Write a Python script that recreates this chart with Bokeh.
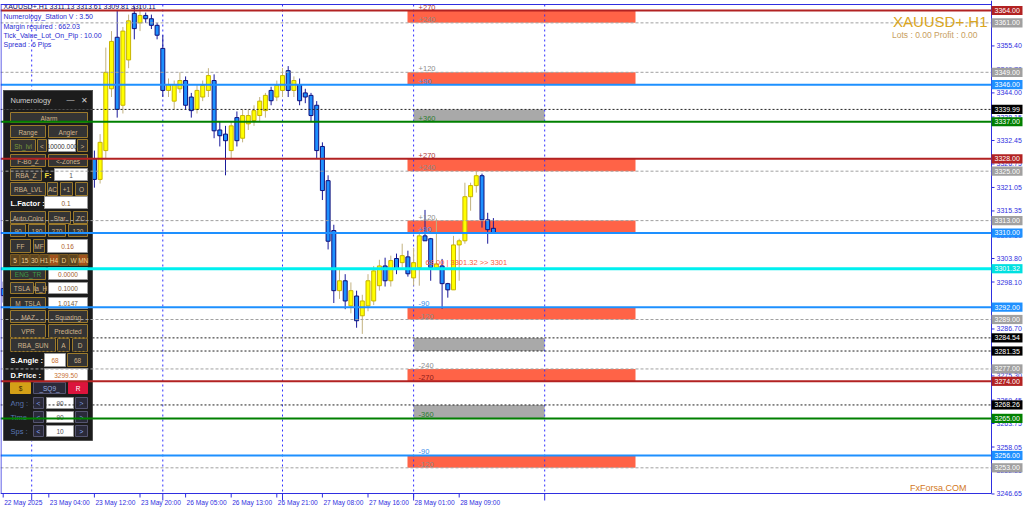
from bokeh.plotting import figure
from bokeh.models import Range1d
from bokeh.core.properties import value
from bokeh.embed import file_html
from bokeh.resources import INLINE

# ------------------------------------------------------------------ data
symbol = "XAUUSD+.H1"
bars = list(range(87))
opens = [3296.5, 3294.8, 3299.6, 3303.2, 3301.4, 3306.9, 3311.3, 3309.0, 3313.7, 3318.2,
         3315.9, 3320.4, 3324.1, 3321.8, 3326.3, 3329.5, 3328.0, 3323.0, 3330.0, 3345.0,
         3357.5, 3341.0, 3352.0, 3363.3, 3361.0, 3362.8, 3362.0, 3360.4, 3354.8, 3344.6,
         3342.0, 3345.0, 3347.0, 3343.0, 3340.0, 3343.0, 3344.6, 3347.0, 3335.0, 3334.0,
         3330.0, 3338.0, 3333.0, 3336.5, 3337.3, 3338.5, 3339.7, 3344.6, 3343.0, 3344.6,
         3349.4, 3344.6, 3346.0, 3344.0, 3343.4, 3341.0, 3331.0, 3322.7, 3310.6, 3296.0,
         3298.4, 3292.3, 3294.7, 3289.9, 3292.3, 3293.5, 3297.2, 3302.0, 3298.4, 3303.8,
         3302.8, 3304.2, 3299.1, 3301.6, 3309.3, 3308.6, 3301.6, 3302.0, 3297.7, 3296.2,
         3307.1, 3308.1, 3318.8, 3321.5, 3323.9, 3313.2, 3311.13]
highs = [3298.2, 3300.9, 3304.5, 3305.1, 3308.0, 3312.6, 3312.4, 3315.2, 3319.4, 3319.0,
         3321.7, 3325.3, 3325.0, 3327.6, 3330.8, 3331.2, 3330.0, 3334.0, 3355.0, 3359.0,
         3364.0, 3360.0, 3363.0, 3365.0, 3365.5, 3363.5, 3363.0, 3361.0, 3358.0, 3347.5,
         3347.0, 3349.0, 3348.0, 3344.0, 3346.0, 3347.0, 3350.0, 3348.5, 3337.0, 3336.0,
         3337.0, 3339.5, 3340.0, 3340.0, 3341.0, 3343.0, 3344.0, 3345.5, 3347.0, 3350.0,
         3350.5, 3348.0, 3347.5, 3345.0, 3344.0, 3342.0, 3332.0, 3324.0, 3312.0, 3301.0,
         3300.0, 3298.0, 3296.0, 3295.0, 3300.0, 3302.0, 3303.5, 3304.0, 3304.5, 3305.0,
         3307.4, 3305.7, 3306.4, 3310.5, 3315.6, 3308.8, 3313.5, 3303.7, 3297.9, 3309.3,
         3308.6, 3322.2, 3322.2, 3325.1, 3324.4, 3314.9, 3313.61]
lows = [3293.1, 3293.6, 3298.4, 3300.2, 3300.5, 3305.3, 3307.6, 3308.1, 3312.5, 3314.3,
        3314.8, 3319.2, 3320.5, 3320.9, 3325.1, 3326.9, 3321.0, 3322.0, 3328.0, 3343.0,
        3338.0, 3339.0, 3350.0, 3357.0, 3359.0, 3361.0, 3359.5, 3357.0, 3343.0, 3343.0,
        3340.0, 3344.0, 3340.0, 3338.0, 3339.0, 3342.0, 3343.0, 3333.0, 3331.0, 3324.0,
        3328.0, 3331.0, 3332.0, 3335.0, 3336.0, 3337.0, 3338.0, 3341.0, 3342.0, 3343.0,
        3343.0, 3343.0, 3341.0, 3341.5, 3337.0, 3328.0, 3318.0, 3306.0, 3293.0, 3294.0,
        3291.5, 3290.5, 3287.0, 3285.5, 3291.0, 3292.5, 3296.0, 3297.0, 3297.0, 3300.0,
        3301.6, 3299.4, 3297.2, 3297.2, 3308.1, 3298.4, 3301.5, 3291.6, 3294.3, 3296.2,
        3298.4, 3307.4, 3315.4, 3319.8, 3311.3, 3307.4, 3309.81]
closes = [3294.8, 3299.6, 3303.2, 3301.4, 3306.9, 3311.3, 3309.0, 3313.7, 3318.2, 3315.9,
          3320.4, 3324.1, 3321.8, 3326.3, 3329.5, 3328.0, 3323.0, 3332.0, 3349.0, 3356.5,
          3340.0, 3359.0, 3361.5, 3359.6, 3362.8, 3362.0, 3360.4, 3358.0, 3344.6, 3346.0,
          3346.0, 3347.0, 3341.0, 3339.7, 3344.6, 3345.8, 3348.2, 3334.8, 3333.6, 3332.4,
          3336.0, 3332.4, 3338.5, 3338.5, 3339.7, 3342.0, 3343.4, 3342.1, 3345.8, 3348.2,
          3344.6, 3347.0, 3342.1, 3343.0, 3338.5, 3330.0, 3320.3, 3308.0, 3296.0, 3298.4,
          3293.5, 3296.0, 3288.7, 3293.5, 3298.4, 3300.8, 3302.0, 3298.4, 3303.3, 3301.3,
          3304.5, 3300.1, 3302.8, 3309.3, 3308.1, 3301.6, 3302.5, 3297.7, 3296.2, 3307.1,
          3308.1, 3318.8, 3321.5, 3323.9, 3313.2, 3310.8, 3310.11]

time_label_bars = [0, 8, 16, 24, 32, 40, 48, 56, 64, 72, 80]
time_labels = ["22 May 2025", "23 May 04:00", "23 May 12:00", "23 May 20:00", "26 May 05:00",
               "26 May 13:00", "26 May 21:00", "27 May 08:00", "27 May 16:00", "28 May 01:00",
               "28 May 09:00"]
day_separator_bars = [5, 28, 49, 72, 95]

price_ticks = [3246.65, 3252.35, 3258.05, 3263.75, 3269.45, 3275.30, 3281.00, 3286.70,
               3292.40, 3298.10, 3303.80, 3309.50, 3315.35, 3321.05, 3326.75, 3332.45,
               3338.15, 3344.00, 3349.70, 3355.40, 3361.10]

# horizontal levels
solid_levels = [3364.00, 3346.00, 3337.00, 3328.00, 3310.00, 3301.32, 3292.00, 3274.00, 3265.00, 3256.00]
solid_kinds = ["red", "blue", "green", "red", "blue", "cyan", "blue", "red", "green", "blue"]
gray_levels = [3361.00, 3349.00, 3325.00, 3313.00, 3289.00, 3277.00, 3253.00]
black_levels = [3339.99, 3284.54, 3281.35, 3268.26]

red_zone_low = [3361.00, 3346.00, 3325.00, 3310.00, 3289.00, 3274.00, 3253.00]
red_zone_high = [3364.00, 3349.00, 3328.00, 3313.00, 3292.00, 3277.00, 3256.00]
gray_zone_low = [3337.00, 3281.35, 3265.00]
gray_zone_high = [3339.99, 3284.54, 3268.26]
red_zone_bars = (70.93, 110.93)
gray_zone_bars = (72.0, 95.0)

angle_labels = ["+270", "+240", "+120", "+90", "+360", "+270", "+240", "+120", "+90",
                "-90", "-120", "-240", "-270", "-360", "-90", "-120"]
angle_levels = [3364.00, 3361.00, 3349.00, 3346.00, 3337.00, 3328.00, 3325.00, 3313.00, 3310.00,
                3292.00, 3289.00, 3277.00, 3274.00, 3265.00, 3256.00, 3253.00]
angle_kinds = ["red", "gray", "gray", "blue", "green", "red", "gray", "gray", "blue",
               "blue", "gray", "gray", "dred", "green", "blue", "gray"]

header_lines = ["XAUUSD+.H1  3311.13 3313.61 3309.81 3310.11",
                "Numerology_Station V : 3.50",
                "Margin required : 662.03",
                "Tick_Value_Lot_On_Pip : 10.00",
                "Spread : 6  Pips"]
predicted_text = "68.00 | 3301.32  >> 3301"

# ------------------------------------------------------------------ geometry / styles
W, H = 1024, 509                 # canvas = frame (axes drawn by hand, MT4 style)
PX_BAR = 5.7                     # pixels per bar
PX_PRICE = 4.12                  # pixels per price unit
X0 = -2.7 / PX_BAR
X1 = X0 + W / PX_BAR
Y1 = 3364.0 + 10 / PX_PRICE
Y0 = Y1 - H / PX_PRICE
AX_X, AX_TOP, AX_BOT = 991, 4, 493   # pixel positions of chart border

def dx(px):
    return X0 + px / PX_BAR

def dy(py):
    return Y1 - py / PX_PRICE

AX_BLUE = "#2f2fe0"
LINE_COL = {"red": "#b22222", "blue": "#1e90ff", "green": "#008000", "cyan": "#00f0f0"}
TAG_COL = {"red": "#b22222", "blue": "#1e90ff", "green": "#008000", "cyan": "#00e0e0",
           "gray": "#a0a0a0", "black": "#000000"}
ANG_COL = {"red": "#b03a3a", "gray": "#8c8c8c", "blue": "#3a8ee8", "green": "#2e7d32", "dred": "#8b1a1a"}
FONT = "Liberation Sans"

p = figure(width=W, height=H, x_range=Range1d(X0, X1), y_range=Range1d(Y0, Y1),
           x_axis_type=None, y_axis_type=None, output_backend="svg", toolbar_location=None,
           min_border=0, background_fill_color="white", border_fill_color="white")
p.grid.visible = False
p.outline_line_color = None

def txt(x, y, t, color, size, align="left", baseline="middle", style="normal"):
    p.text(x=x, y=y, text=t, text_color=color, text_align=align, text_baseline=baseline,
           text_font=value(FONT), text_font_size=value(size), text_font_style=style)

# zones
n_r = len(red_zone_low)
p.quad(left=[red_zone_bars[0]] * n_r, right=[red_zone_bars[1]] * n_r,
       bottom=red_zone_low, top=red_zone_high, fill_color="#ff6347", line_color=None)
n_g = len(gray_zone_low)
p.quad(left=[gray_zone_bars[0]] * n_g, right=[gray_zone_bars[1]] * n_g,
       bottom=gray_zone_low, top=gray_zone_high, fill_color="#a9a9a9", line_color=None)

# vertical day separators
ns = len(day_separator_bars)
p.segment(x0=day_separator_bars, x1=day_separator_bars, y0=[dy(AX_TOP)] * ns, y1=[dy(AX_BOT)] * ns,
          line_color="#3030ff", line_dash="2 3", line_width=1)

# candles
bull = [c >= o for o, c in zip(opens, closes)]
wick_col = ["#c2b280" if b else "#1a1a9a" for b in bull]
body_fill = ["#ffff00" if b else "#1e90ff" for b in bull]
body_line = ["#c8b400" if b else "#10107a" for b in bull]
p.segment(x0=bars, x1=bars, y0=lows, y1=highs, line_color=wick_col, line_width=1)
tops = [max(o, c) for o, c in zip(opens, closes)]
bots = [min(o, c) for o, c in zip(opens, closes)]
p.vbar(x=bars, width=0.7, top=tops, bottom=bots, fill_color=body_fill, line_color=body_line, line_width=1)

# ------------------------------------------------------------------ Numerology panel (UI chrome)
BTN_FILL, BTN_LINE, BTN_TXT = "#343434", "#9c7a2c", "#d2b48c"
INP_TXT = "#8b5a2b"
panel = []  # (x0, y0, x1, y1, text, fill, line, tcolor)
def btn(x0, y0, x1, y1, t, fill=BTN_FILL, tc=BTN_TXT, line=BTN_LINE):
    panel.append((x0, y0, x1, y1, t, fill, line, tc))
def inp(x0, y0, x1, y1, t, tc=INP_TXT):
    panel.append((x0, y0, x1, y1, t, "#ffffff", "#9a9a9a", tc))

btn(10, 112, 87, 122, "Alarm")
btn(10, 125, 45, 137, "Range"); btn(48, 125, 87, 137, "Angler")
btn(10, 139, 35, 151, "Sh_lvl", tc="#7a9a3a"); btn(37, 139, 46, 151, "<"); inp(48, 139, 75, 151, "10000.000", tc="#333333"); btn(77, 139, 87, 151, ">")
btn(10, 154, 45, 166, "F-Bo_Z"); btn(48, 154, 87, 166, "<-Zones")
btn(10, 168, 41, 180, "RBA_Z"); inp(54, 168, 87, 180, "1", tc="#555555")
btn(10, 182, 45, 195, "RBA_LVL"); btn(47, 182, 57, 195, "AC"); btn(60, 182, 72, 195, "+1"); btn(75, 182, 87, 195, "O")
inp(44, 196, 87, 208, "0.1")
btn(10, 211, 45, 223, "Auto Color"); btn(48, 211, 70, 223, "Star"); btn(73, 211, 87, 223, "ZC")
btn(10, 224, 25, 236, "90"); btn(28, 224, 45, 236, "180"); btn(48, 224, 65, 236, "270"); btn(68, 224, 87, 236, "120")
btn(10, 239, 30, 252, "FF"); btn(33, 239, 44, 252, "MF"); inp(47, 239, 87, 252, "0.16", tc="#b0602a")
tf = ["5", "15", "30", "H1", "H4", "D", "W", "MN"]
for i, t in enumerate(tf):
    x0 = 10 + i * 9.75
    hot = t in ("H4", "MN")
    btn(x0, 254, x0 + 9.0, 265, t, fill="#a0521d" if hot else "#5c4420", tc="#f0d090", line="#7a5a20")
btn(10, 267, 45, 279, "ENG_TR", tc="#3e9a4a"); inp(48, 267, 87, 279, "0.0000", tc="#a06030")
btn(10, 282, 33, 293, "TSLA"); btn(35, 282, 45, 293, "la_H"); inp(48, 282, 87, 293, "0.1000", tc="#7a5a3a")
btn(10, 297, 45, 308, "M_TSLA"); inp(48, 297, 87, 308, "1.0147", tc="#7a5a3a")
btn(10, 310, 45, 322, "MAZ"); btn(48, 310, 87, 322, "Squaring")
btn(10, 324, 45, 337, "VPR"); btn(48, 324, 87, 337, "Predicted")
btn(10, 338, 55, 351, "RBA_SUN"); btn(57, 338, 69, 351, "A"); btn(72, 338, 87, 351, "D")
inp(44, 353, 65, 366, "68", tc="#c87030"); btn(67, 353, 87, 366, "68")
inp(44, 368, 87, 381, "3299.50", tc="#c87030")
btn(10, 382, 30, 393, "$", fill="#d4a017", tc="#3a2a00", line="#d4a017")
btn(33, 382, 65, 393, "_SQ9_", fill="#2a2a3a", tc="#9ab0e0", line="#555570")
btn(68, 382, 87, 393, "R", fill="#dc143c", tc="#ffffff", line="#dc143c")
for yy, v in ((397, "90"), (411, "90"), (425, "10")):
    btn(33, yy, 43, yy + 11, "<", tc="#8ab0ff", line="#555570", fill="#2a2a3a")
    inp(46, yy, 73, yy + 11, v, tc="#555555")
    btn(75, yy, 87, yy + 11, ">", tc="#8ab0ff", line="#555570", fill="#2a2a3a")

p.quad(left=[dx(3)], right=[dx(92)], top=[dy(90)], bottom=[dy(440)],
       fill_color="#1c1c1c", line_color="#505050", line_width=1)
p.quad(left=[dx(3)], right=[dx(92)], top=[dy(90)], bottom=[dy(109)],
       fill_color="#1c1c1c", line_color="#505050", line_width=1)
p.quad(left=[dx(e[0]) for e in panel], right=[dx(e[2]) for e in panel],
       top=[dy(e[1]) for e in panel], bottom=[dy(e[3]) for e in panel],
       fill_color=[e[5] for e in panel], line_color=[e[6] for e in panel], line_width=1)
p.text(x=[dx((e[0] + e[2]) / 2) for e in panel], y=[dy((e[1] + e[3]) / 2 + 0.5) for e in panel],
       text=[e[4] for e in panel], text_color=[e[7] for e in panel],
       text_align="center", text_baseline="middle",
       text_font=value(FONT), text_font_size=value("6.5px"))

plain = [(10, 100, "Numerology", "#d0d0d0", "7.5px", "normal"),
         (66, 99, "—", "#d0d0d0", "8px", "normal"),
         (80, 100, "✕", "#d0d0d0", "8px", "normal"),
         (44, 174.5, "F:", "#f0e040", "7.5px", "bold"),
         (10, 202.5, "L.Factor :", "#ffffff", "7.5px", "bold"),
         (10, 359.5, "S.Angle :", "#ffffff", "7.5px", "bold"),
         (10, 374.5, "D.Price :", "#ffffff", "7.5px", "bold"),
         (10, 402.5, "Ang :", "#5a78b8", "7.5px", "normal"),
         (10, 416.5, "Time", "#5a78b8", "7.5px", "normal"),
         (10, 431, "Sps :", "#5a78b8", "7.5px", "normal")]
for x, y, t, c, s, st in plain:
    txt([dx(x)], [dy(y)], [t], c, s, style=st)

# ------------------------------------------------------------------ level lines (over everything)
xl, xr = dx(0), dx(AX_X)
sl_col = [LINE_COL[k] for k in solid_kinds]
sl_w = [3 if k == "cyan" else 2 for k in solid_kinds]
n = len(solid_levels)
p.segment(x0=[xl] * n, x1=[xr] * n, y0=solid_levels, y1=solid_levels, line_color=sl_col, line_width=sl_w)
n = len(gray_levels)
p.segment(x0=[xl] * n, x1=[xr] * n, y0=gray_levels, y1=gray_levels,
          line_color="#a0a0a0", line_dash="3 2", line_width=1)
n = len(black_levels)
p.segment(x0=[xl] * n, x1=[xr] * n, y0=black_levels, y1=black_levels,
          line_color="#202020", line_dash="2 2", line_width=1)

# angle labels just above each level
p.text(x=[gray_zone_bars[0]] * len(angle_labels), y=angle_levels, text=angle_labels,
       text_color=[ANG_COL[k] for k in angle_kinds], x_offset=5, y_offset=-1,
       text_align="left", text_baseline="bottom",
       text_font=value(FONT), text_font_size=value("7.5px"))
p.text(x=[74.1], y=[solid_levels[5]], text=[predicted_text], text_color="#ff5a3a",
       y_offset=-2, text_align="left", text_baseline="bottom",
       text_font=value(FONT), text_font_size=value("7.5px"))

# header texts (top-left)
hy = [6, 16, 25.5, 35, 44]
for i, (t, y) in enumerate(zip(header_lines, hy)):
    txt([dx(3)], [dy(y)], [t], "#101060" if i == 0 else "#2a2ad0", "7px")

# top-right title and bottom-right brand
txt([dx(987)], [dy(21)], [symbol], "#daa520", "15px", align="right")
txt([dx(977)], [dy(34)], ["Lots : 0.00 Profit : 0.00"], "#c8a060", "8.5px", align="right")
txt([dx(966)], [dy(487)], ["FxForsa.COM"], "#d2781e", "9px", align="right")

# ------------------------------------------------------------------ hand-drawn MT4 axes
p.segment(x0=[dx(0), dx(0), dx(AX_X), dx(0.5)], x1=[dx(AX_X), dx(AX_X), dx(AX_X), dx(0.5)],
          y0=[dy(AX_TOP), dy(AX_BOT), dy(0), dy(AX_TOP)], y1=[dy(AX_TOP), dy(AX_BOT), dy(AX_BOT), dy(AX_BOT)],
          line_color=AX_BLUE, line_width=1)
# price scale
nt = len(price_ticks)
p.segment(x0=[dx(AX_X)] * nt, x1=[dx(AX_X + 3)] * nt, y0=price_ticks, y1=price_ticks,
          line_color=AX_BLUE, line_width=1)
txt([dx(AX_X + 5)] * nt, price_ticks, [f"{v:.2f}" for v in price_ticks], AX_BLUE, "7px")
# time scale
nb = len(time_label_bars)
p.segment(x0=time_label_bars, x1=time_label_bars, y0=[dy(AX_BOT)] * nb, y1=[dy(AX_BOT + 4)] * nb,
          line_color=AX_BLUE, line_width=1)
p.segment(x0=day_separator_bars, x1=day_separator_bars, y0=[dy(AX_BOT)] * ns, y1=[dy(AX_BOT + 7)] * ns,
          line_color=AX_BLUE, line_width=1)
p.text(x=time_label_bars, y=[dy(AX_BOT + 5)] * nb, text=time_labels, text_color=AX_BLUE, x_offset=1,
       text_align="left", text_baseline="top", text_font=value(FONT), text_font_size=value("6.6px"))

# price tags on the right scale
tags = [(lv, k) for lv, k in zip(solid_levels, solid_kinds)] + \
       [(lv, "gray") for lv in gray_levels] + [(lv, "black") for lv in black_levels]
half = 4.6 / PX_PRICE
p.quad(left=[dx(AX_X)] * len(tags), right=[dx(1022)] * len(tags),
       bottom=[lv - half for lv, _ in tags], top=[lv + half for lv, _ in tags],
       fill_color=[TAG_COL[k] for _, k in tags], line_color=None)
txt([dx(AX_X + 3)] * len(tags), [lv for lv, _ in tags], [f"{lv:.2f}" for lv, _ in tags], "white", "7px")

open("out.html", "w").write(file_html(p, INLINE))
